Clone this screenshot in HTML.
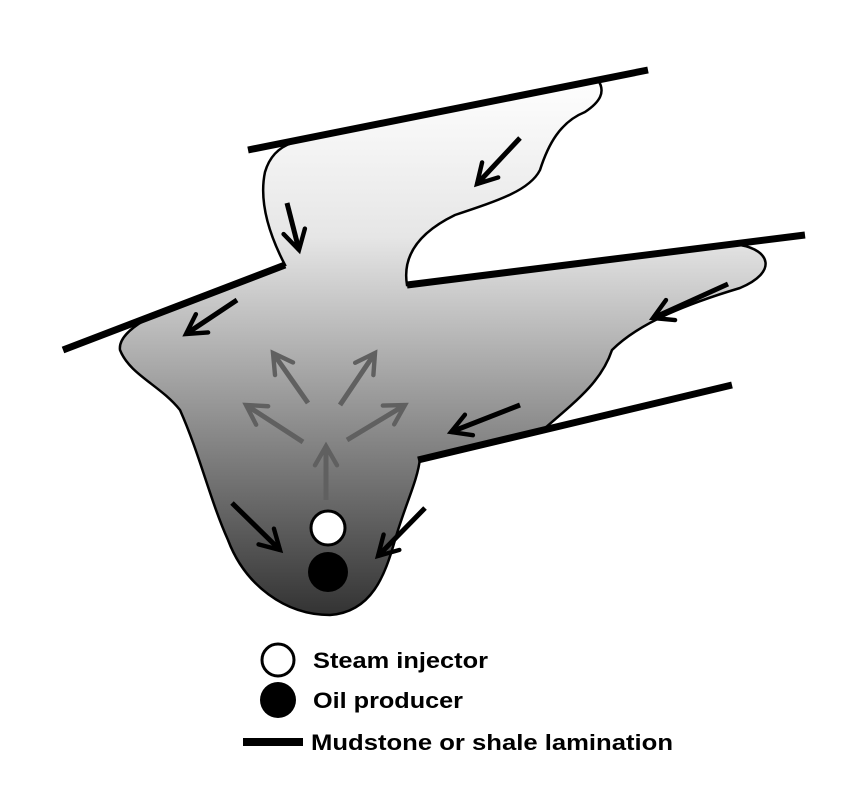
<!DOCTYPE html>
<html><head><style>body{margin:0;background:#fff}svg{display:block}text{font-family:"Liberation Sans",sans-serif;font-weight:bold;font-size:22px}</style></head>
<body>
<svg width="850" height="795" viewBox="0 0 850 795" xmlns="http://www.w3.org/2000/svg">
<defs>
<linearGradient id="g" x1="0" y1="75" x2="0" y2="615" gradientUnits="userSpaceOnUse">
<stop offset="0" stop-color="#ffffff"/><stop offset="0.3" stop-color="#e6e6e6"/><stop offset="1" stop-color="#333"/></linearGradient>
<marker id="ab" viewBox="0 0 10 10" refX="8" refY="5" markerWidth="5.5" markerHeight="5.5" orient="auto" markerUnits="strokeWidth">
<polyline points="1,1 8,5 1,9" fill="none" stroke="#000" stroke-width="1.6" stroke-linecap="round"/></marker>
<marker id="ag" viewBox="0 0 10 10" refX="8" refY="5" markerWidth="5.5" markerHeight="5.5" orient="auto" markerUnits="strokeWidth">
<polyline points="1,1 8,5 1,9" fill="none" stroke="#606060" stroke-width="1.6" stroke-linecap="round"/></marker>
</defs>
<path d="M285,265 C272,240 258,205 265,172 C270,155 280,147 292,143 L598,80 C606,92 600,102 585,112 C560,122 548,145 540,170 C530,190 500,200 455,215 C420,232 402,255 407,285 L740,245 C770,250 778,272 740,288 C690,303 640,322 612,350 C602,380 580,398 545,428 L420,458 C418,480 405,505 395,540 C385,575 372,612 330,615 C285,615 245,585 228,540 C210,500 200,455 180,410 C160,385 130,375 120,350 C118,335 140,320 175,305 Z" fill="url(#g)" stroke="#000" stroke-width="2.5"/>
<g stroke="#000" stroke-width="7" stroke-linecap="butt">
<line x1="248" y1="150" x2="648" y2="70"/>
<line x1="407" y1="285" x2="805" y2="235"/>
<line x1="418" y1="460" x2="732" y2="385"/>
<line x1="63" y1="350" x2="285" y2="265"/>
</g>
<g stroke="#000" stroke-width="5" fill="none" marker-end="url(#ab)">
<line x1="520" y1="138" x2="477" y2="184"/>
<line x1="287" y1="203" x2="299" y2="250"/>
<line x1="237" y1="300" x2="186" y2="334"/>
<line x1="728" y1="284" x2="653" y2="318"/>
<line x1="520" y1="405" x2="451" y2="432"/>
<line x1="232" y1="503" x2="280" y2="550"/>
<line x1="425" y1="508" x2="378" y2="556"/>
</g>
<g stroke="#606060" stroke-width="5" fill="none" marker-end="url(#ag)">
<line x1="326" y1="500" x2="326" y2="446"/>
<line x1="303" y1="442" x2="246" y2="405"/>
<line x1="347" y1="440" x2="405" y2="405"/>
<line x1="308" y1="403" x2="273" y2="353"/>
<line x1="340" y1="405" x2="375" y2="353"/>
</g>
<circle cx="328" cy="528" r="17" fill="#fff" stroke="#000" stroke-width="3"/>
<circle cx="328" cy="572" r="20" fill="#000"/>
<circle cx="278" cy="660" r="16" fill="#fff" stroke="#000" stroke-width="3"/>
<text x="313" y="668" textLength="175" lengthAdjust="spacingAndGlyphs">Steam injector</text>
<circle cx="278" cy="700" r="18" fill="#000"/>
<text x="313" y="708" textLength="150" lengthAdjust="spacingAndGlyphs">Oil producer</text>
<line x1="243" y1="742" x2="303" y2="742" stroke="#000" stroke-width="8"/>
<text x="311" y="750" textLength="362" lengthAdjust="spacingAndGlyphs">Mudstone or shale lamination</text>
</svg>
</body></html>
